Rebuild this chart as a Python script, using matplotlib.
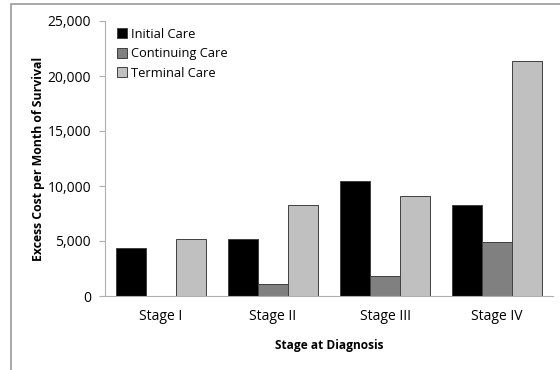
import matplotlib.pyplot as plt
import numpy as np
from matplotlib.patches import Rectangle
from matplotlib.ticker import FuncFormatter

stages = ["Stage I", "Stage II", "Stage III", "Stage IV"]
initial_care = [4400, 5200, 10450, 8250]
continuing_care = [0, 1050, 1850, 4900]
terminal_care = [5200, 8300, 9100, 21400]

series = [
    ("Initial Care", initial_care, "#000000"),
    ("Continuing Care", continuing_care, "#808080"),
    ("Terminal Care", terminal_care, "#C0C0C0"),
]

plt.rcParams["font.family"] = ["Open Sans", "DejaVu Sans"]

fig = plt.figure(figsize=(5.6, 3.7), dpi=100)
fig.patches.append(Rectangle((11 / 560, -0.1), 1.2, 1 - 4 / 370 + 0.1,
                             transform=fig.transFigure, fill=False,
                             ec="#9a9a9a", lw=1.2))
ax = fig.add_axes([105 / 560, 74 / 370, 448 / 560, 275 / 370])

x = np.arange(len(stages))
width = 0.27
for i, (name, vals, color) in enumerate(series):
    ax.bar(x + (i - 1) * width, vals, width=width, color=color,
           edgecolor="#404040", linewidth=0.7, label=name)

ax.set_xlim(-0.5, len(stages) - 0.5)
ax.set_ylim(0, 25000)
ax.set_yticks(np.arange(0, 25001, 5000))
ax.yaxis.set_major_formatter(FuncFormatter(lambda v, _: f"{int(v):,}"))
ax.set_xticks(x, stages)
ax.tick_params(axis="y", length=4, color="#b0b0b0", labelsize=10, pad=6)
ax.tick_params(axis="x", length=0, labelsize=10, pad=9)

for side in ["top", "right"]:
    ax.spines[side].set_visible(False)
ax.spines["left"].set_color("#b0b0b0")
ax.spines["bottom"].set_color("#b0b0b0")

ax.set_ylabel("Excess Cost per Month of Survival", fontsize=8.8, weight="bold")
ax.yaxis.set_label_coords(-0.135, 0.5)
ax.set_xlabel("Stage at Diagnosis", fontsize=8.6, weight="bold", labelpad=11)

ax.legend(loc="upper left", bbox_to_anchor=(0.0, 1.018), frameon=False,
          fontsize=9.3, handlelength=0.8, handleheight=0.8, handletextpad=0.3,
          labelspacing=0.5)

fig.savefig("out.png", dpi=100)
